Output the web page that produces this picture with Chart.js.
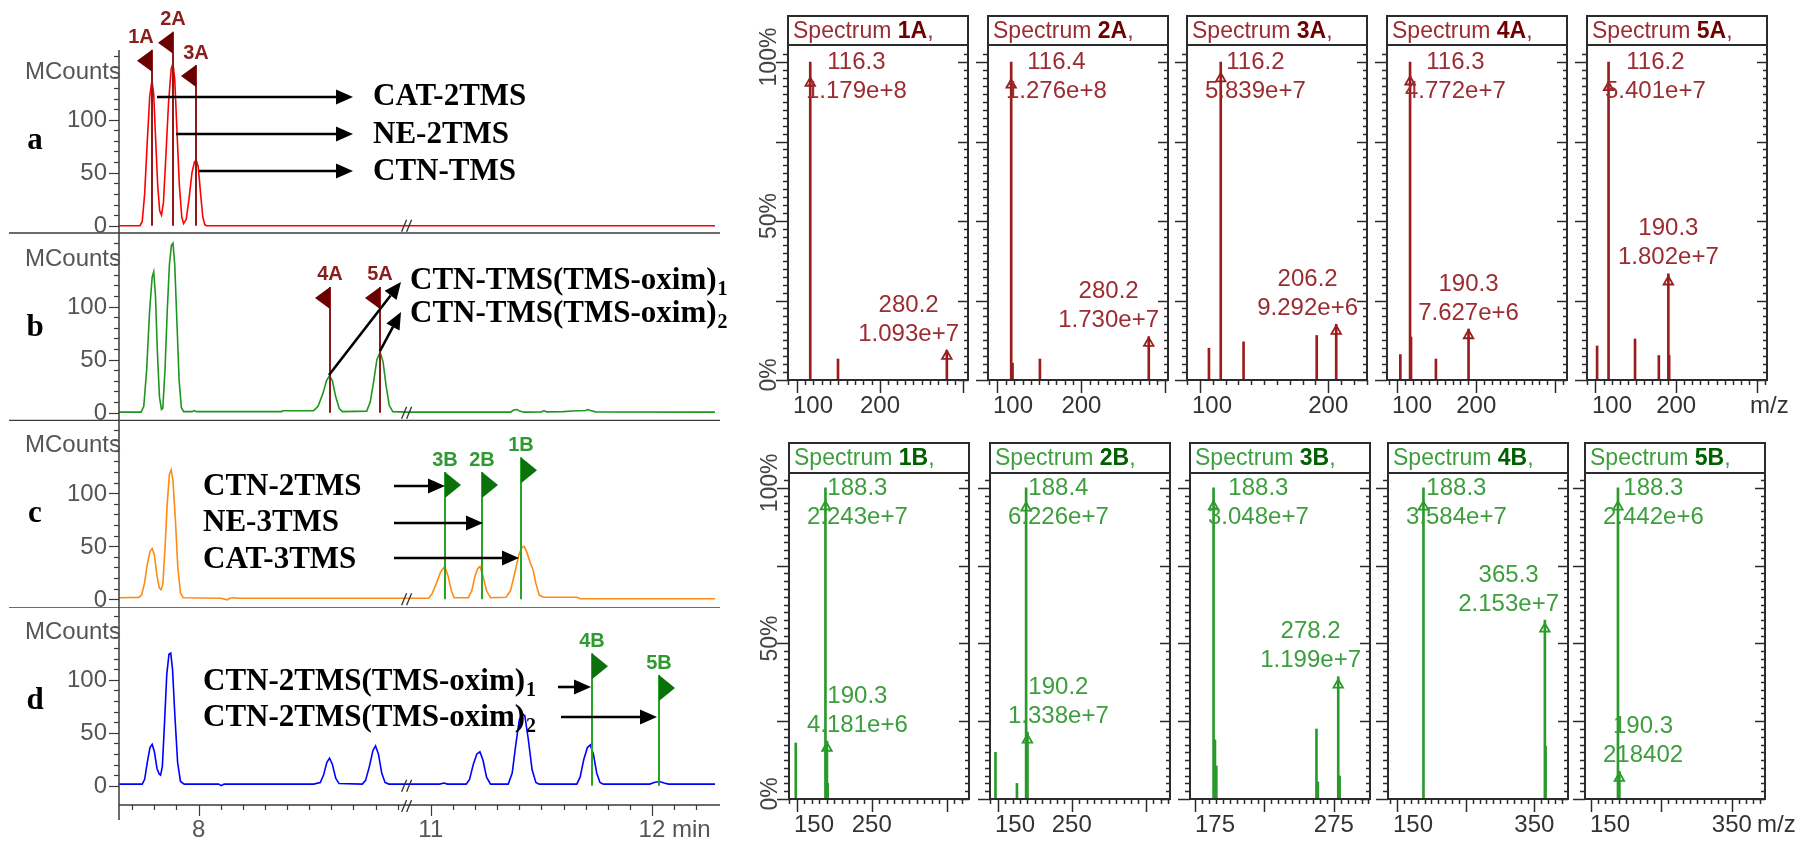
<!DOCTYPE html>
<html><head><meta charset="utf-8"><title>GC-MS chromatograms and spectra</title>
<script src="https://cdn.jsdelivr.net/npm/chart.js@4.4.1/dist/chart.umd.min.js"></script>
<style>
html,body{margin:0;padding:0;background:#ffffff;}
body{width:1809px;height:845px;position:relative;overflow:hidden;}
canvas{position:absolute;}
</style></head><body>
<script>
// ================= Chromatogram data: [time (min), MCounts] =================
const TRACE_A = [[7.64,0],[7.735,0],[7.745,4],[7.756,30],[7.768,80],[7.779,122],[7.789,137],[7.797,124],[7.806,80],[7.815,38],[7.824,14],[7.832,10],[7.841,22],[7.852,66],[7.864,116],[7.876,148],[7.884,153],[7.892,138],[7.902,90],[7.913,38],[7.924,8],[7.932,2],[7.944,6],[7.957,26],[7.970,50],[7.981,60],[7.989,62],[7.998,56],[8.009,30],[8.019,8],[8.028,1],[8.035,0],[8.945,0],[10.895,0],[12.29,0]];
const TRACE_B = [[7.64,0.5],[7.74,0.5],[7.752,6],[7.765,40],[7.778,95],[7.790,128],[7.797,133],[7.805,110],[7.814,55],[7.823,15],[7.832,3],[7.838,4],[7.848,40],[7.858,95],[7.868,140],[7.877,158],[7.884,160],[7.892,140],[7.902,85],[7.912,30],[7.922,5],[7.932,1],[7.97,1],[7.98,2],[7.99,1],[8.375,1],[8.38,1.8],[8.52,2],[8.54,6],[8.562,18],[8.578,30],[8.592,35],[8.605,30],[8.62,15],[8.636,4],[8.65,1],[8.76,1.5],[8.776,10],[8.792,30],[8.806,50],[8.821,57],[8.834,48],[8.848,25],[8.862,7],[8.878,1],[8.945,0.5],[10.895,0.5],[11.36,0.5],[11.375,2.5],[11.389,3],[11.402,1.5],[11.42,0.5],[11.50,0.8],[11.512,1.8],[11.524,0.8],[11.60,1],[11.636,1.6],[11.70,2],[11.71,3],[11.722,2],[11.745,0.8],[12.29,0.5]];
const TRACE_C = [[7.64,1.5],[7.73,1.8],[7.742,4],[7.755,15],[7.768,33],[7.780,45],[7.790,48],[7.800,42],[7.812,22],[7.822,11],[7.830,9],[7.838,14],[7.848,48],[7.858,90],[7.868,118],[7.876,122],[7.884,112],[7.895,75],[7.906,30],[7.918,6],[7.930,1.5],[8.10,1],[8.13,-0.5],[8.14,1],[8.16,1.5],[8.18,1],[8.945,1],[10.895,1],[10.99,1],[11.005,5],[11.025,15],[11.045,26],[11.063,31],[11.078,22],[11.093,8],[11.105,1.5],[11.17,1.5],[11.185,8],[11.200,22],[11.212,29],[11.222,31],[11.236,22],[11.252,8],[11.27,1.5],[11.34,2],[11.36,8],[11.38,25],[11.398,42],[11.412,49],[11.422,50],[11.435,44],[11.450,34],[11.462,28],[11.475,15],[11.49,4],[11.51,2],[11.66,2],[11.675,0.5],[12.29,0.5]];
const TRACE_D = [[7.64,1.5],[7.745,1.5],[7.756,6],[7.768,22],[7.780,36],[7.790,39],[7.800,32],[7.812,16],[7.822,11],[7.828,10],[7.836,18],[7.846,60],[7.856,105],[7.866,124],[7.874,125],[7.882,110],[7.893,65],[7.905,22],[7.918,4],[7.935,1.5],[8.09,1.5],[8.103,0],[8.115,1.5],[8.52,1.5],[8.55,3],[8.565,10],[8.58,22],[8.592,26],[8.605,20],[8.62,7],[8.635,2],[8.74,1.5],[8.755,5],[8.772,18],[8.788,33],[8.800,37.5],[8.813,30],[8.828,12],[8.843,3],[8.86,1.5],[8.945,1.5],[10.895,1.5],[11.04,1.5],[11.06,2.5],[11.075,1.5],[11.16,1.5],[11.175,6],[11.192,20],[11.208,30],[11.222,32],[11.236,24],[11.252,8],[11.27,1.5],[11.35,1.5],[11.368,12],[11.385,40],[11.400,62],[11.412,68],[11.425,66],[11.440,45],[11.458,15],[11.475,3],[11.49,1.5],[11.66,1.5],[11.675,8],[11.692,25],[11.708,36],[11.721,38.5],[11.735,30],[11.750,12],[11.765,3],[11.78,1.5],[11.99,1.5],[12.01,3],[12.034,4],[12.055,2.5],[12.075,1.5],[12.29,1.5]];
const TIME_TICK_LABELS = [8, 11, 12];
const COUNT_TICK_LABELS = [0, 50, 100];
// flags: [label, time, flag-top level (MCounts)]
const FLAGS_A = [['1A',7.789,166],['2A',7.884,183],['3A',7.989,151.5]];
const FLAGS_B = [['4A',8.592,118.6],['5A',8.821,118.6]];
const FLAGS_C = [['3B',11.063,120],['2B',11.230,120],['1B',11.408,134]];
const FLAGS_D = [['4B',11.731,125],['5B',12.034,104.4]];
const PANEL_LETTERS = ['a','b','c','d'];

// ================= Mass spectra data =================
const SPEC_NAMES = ['1A','2A','3A','4A','5A','1B','2B','3B','4B','5B'];
const SPEC_MZ = [
  [116.3,149.6,280.2],
  [116.4,118.0,150.6,280.2],
  [107.0,116.2,134.0,191.0,206.2],
  [104.0,116.3,117.5,149.0,190.3],
  [102.0,116.2,149.0,178.5,190.3,191.3],
  [148.7,188.3,189.3,190.3,191.3],
  [147.0,176.0,188.4,189.4,190.2],
  [188.3,189.3,190.3,262.5,263.5,278.2,279.2],
  [188.3,365.3,366.3],
  [188.3,190.3]
];
const SPEC_AB = [
  [100,6.6,9.3],
  [100,5.3,6.6,13.6],
  [10.0,100,12.0,14.0,17.5],
  [8.0,100,13.5,6.6,16.0],
  [10.7,100,12.9,7.7,33.4,7.7],
  [18.0,100,18.5,18.6,5.0],
  [15.0,5.0,100,21.0,21.5],
  [100,19.0,10.6,22.5,5.5,39.3,7.4],
  [100,57.5,17.0],
  [100,8.9]
];
const LABEL_MZ = [[116.3,280.2],[116.4,280.2],[116.2,206.2],[116.3,190.3],[116.2,190.3],[188.3,190.3],[188.4,190.2],[188.3,278.2],[188.3,365.3],[188.3,190.3]];
const LABEL_INT = [['1.179e+8','1.093e+7'],['1.276e+8','1.730e+7'],['5.839e+7','9.292e+6'],['4.772e+7','7.627e+6'],['5.401e+7','1.802e+7'],['2.243e+7','4.181e+6'],['6.226e+7','1.338e+7'],['3.048e+7','1.199e+7'],['3.584e+7','2.153e+7'],['2.442e+6','218402']];
const MARK_AB = [[93.4,7.5],[92.8,11.6],[94.8,15.4],[93.8,14.0],[92.0,30.9],[94.0,16.4],[93.6,19.0],[94.0,36.7],[93.9,54.7],[93.9,6.7]];
const SPEC_XMIN = [89.6,88.8,89.9,87.1,89.5,139.7,139.6,171.3,136.6,141.5];
const SPEC_XMAX = [305.6,303.1,230.2,314.9,312.5,379.7,382.8,301.1,399.0,397.0];
const MZ_TICK_LABELS = [[100,200],[100,200],[100,200],[100,200],[100,200],[150,250],[150,250],[175,275],[150,350],[150,350]];
const MZ_MAJOR_TICKS = [[100,200,300],[100,200,300],[100,200],[100,200,300],[100,200,300],[150,250,350],[150,250,350],[175,225,275],[150,250,350],[150,250,350]];
const MZ_MINOR_STEP = [10,10,10,10,10,10,10,5,10,10];
const PCT_TICK_LABELS = [0, 50, 100];

// ================= helpers =================
const SANS = '"Liberation Sans", Arial, sans-serif';
const SERIF = '"Liberation Serif", "Times New Roman", serif';
const BREAK_U = 8.945, SHIFT = 1.95;
const toU = t => (t <= BREAK_U ? t : t - SHIFT);
const U_MIN = 7.64, U_MAX = 10.335;
const PX_PER_COUNT = 1.06;

function mk(left, top, w, h) {
  const c = document.createElement('canvas');
  c.width = w; c.height = h;
  c.style.left = left + 'px'; c.style.top = top + 'px';
  c.style.width = w + 'px'; c.style.height = h + 'px';
  document.body.appendChild(c);
  return c;
}
function seg(ctx, x1, y1, x2, y2) { ctx.beginPath(); ctx.moveTo(x1, y1); ctx.lineTo(x2, y2); ctx.stroke(); }
function arrow(ctx, x1, y1, x2, y2) {
  const a = Math.atan2(y2 - y1, x2 - x1), hl = 17, hw = 7.5;
  const bx = x2 - hl * Math.cos(a), by = y2 - hl * Math.sin(a);
  ctx.strokeStyle = '#000'; ctx.lineWidth = 2.6; seg(ctx, x1, y1, bx, by);
  ctx.fillStyle = '#000'; ctx.beginPath(); ctx.moveTo(x2, y2);
  ctx.lineTo(bx + hw * Math.sin(a), by - hw * Math.cos(a));
  ctx.lineTo(bx - hw * Math.sin(a), by + hw * Math.cos(a));
  ctx.closePath(); ctx.fill();
}
function boldLabel(ctx, text, sub, x, y) {
  ctx.font = 'bold 31px ' + SERIF; ctx.textAlign = 'left'; ctx.textBaseline = 'middle'; ctx.fillStyle = '#000';
  ctx.fillText(text, x, y);
  if (sub) { const w = ctx.measureText(text).width; ctx.font = 'bold 20px ' + SERIF; ctx.fillText(sub, x + w + 1, y + 9); }
}
function flag(ctx, red, label, px, py0, ptop, dx) {
  ctx.strokeStyle = red ? '#8e1b1b' : '#26a526'; ctx.lineWidth = 2;
  seg(ctx, px, py0, px, ptop);
  ctx.fillStyle = red ? '#6a0000' : '#0b720b';
  ctx.beginPath();
  if (red) { ctx.moveTo(px, ptop); ctx.lineTo(px, ptop + 22); ctx.lineTo(px - 15, ptop + 11); }
  else { ctx.moveTo(px, ptop); ctx.lineTo(px, ptop + 26); ctx.lineTo(px + 16, ptop + 13); }
  ctx.closePath(); ctx.fill();
  ctx.font = 'bold 20px ' + SANS; ctx.fillStyle = red ? '#8b1c1c' : '#2f9a2f';
  ctx.textAlign = 'center'; ctx.textBaseline = 'middle';
  ctx.fillText(label, px + (dx || 0), ptop - 12);
}
function breakMark(ctx, x, y) {
  ctx.strokeStyle = '#333'; ctx.lineWidth = 1.3;
  seg(ctx, x - 6, y + 6, x - 1, y - 6);
  seg(ctx, x - 1, y + 6, x + 4, y - 6);
}

// ================= Chromatogram panels =================
const PANELS = [
  {trace: TRACE_A, color: '#ff0000', top: 0, h: 234, zero: 225.7, caTop: 20, caBottom: 233, axisTop: 50, axisBottom: 234, sep: 233, flags: FLAGS_A, red: true,
   texts: [['CAT-2TMS', null, 373, 97], ['NE-2TMS', null, 373, 135], ['CTN-TMS', null, 373, 172]],
   arrows: [[157, 97, 353, 97], [176, 134, 353, 134], [199, 171, 353, 171]], flagDx: {'1A': -11}},
  {trace: TRACE_B, color: '#1e961e', top: 234, h: 187, zero: 412.7, caTop: 234, caBottom: 420.5, axisTop: 234, axisBottom: 421, sep: 420.5, flags: FLAGS_B, red: true,
   texts: [['CTN-TMS(TMS-oxim)', '1', 410, 281], ['CTN-TMS(TMS-oxim)', '2', 410, 314]],
   arrows: [[329, 375, 401, 282], [380, 351, 401, 312]], flagDx: {}},
  {trace: TRACE_C, color: '#ff8a14', top: 421, h: 187, zero: 599.3, caTop: 421, caBottom: 608, axisTop: 421, axisBottom: 608, sep: 608, flags: FLAGS_C, red: false,
   texts: [['CTN-2TMS', null, 203, 487], ['NE-3TMS', null, 203, 523], ['CAT-3TMS', null, 203, 560]],
   arrows: [[394, 486, 445, 486], [394, 523, 483, 523], [394, 558, 519, 558]], flagDx: {}},
  {trace: TRACE_D, color: '#0000ff', top: 608, h: 237, zero: 785.7, caTop: 608, caBottom: 805, axisTop: 608, axisBottom: 820, sep: null, xAxis: 805, flags: FLAGS_D, red: false,
   texts: [['CTN-2TMS(TMS-oxim)', '1', 203, 682], ['CTN-2TMS(TMS-oxim)', '2', 203, 718]],
   arrows: [[558, 687, 591, 687], [561, 717, 657, 717]], flagDx: {}}
];

PANELS.forEach((p, idx) => {
  const W = 760;
  const cv = mk(0, p.top, W, p.h);
  const yMin = -(p.caBottom - p.zero) / PX_PER_COUNT;
  const yMax = (p.zero - p.caTop) / PX_PER_COUNT;
  const oy = p.top;
  const plug = {
    id: 'chrom' + idx,
    afterDraw(chart) {
      const {ctx, scales: {x, y}} = chart;
      const X = t => x.getPixelForValue(toU(t));
      const Y = v => y.getPixelForValue(v);
      ctx.save();
      ctx.strokeStyle = '#3a3a3a'; ctx.lineWidth = 1.5;
      if (p.sep !== null) seg(ctx, 9, p.sep - oy, 720, p.sep - oy);
      seg(ctx, 119, p.axisTop - oy, 119, p.axisBottom - oy);
      ctx.lineWidth = 1.2;
      for (let i = 0; i <= 16; i++) {
        const v = i * 10, py = Math.round(Y(v)) + 0.5;
        if (py < p.axisTop - oy + 2) continue;
        const major = COUNT_TICK_LABELS.includes(v);
        seg(ctx, 119 - (major ? 10 : 5), py, 119, py);
      }
      ctx.font = '24px ' + SANS; ctx.fillStyle = '#555'; ctx.textAlign = 'right'; ctx.textBaseline = 'middle';
      COUNT_TICK_LABELS.forEach(v => ctx.fillText(String(v), 107, Y(v) + 1));
      ctx.fillText('MCounts', 121, Y(145));
      ctx.font = 'bold 31px ' + SERIF; ctx.fillStyle = '#000'; ctx.textAlign = 'center';
      ctx.fillText(PANEL_LETTERS[idx], 35, Y(0) - 85);
      const bx = x.getPixelForValue(BREAK_U);
      breakMark(ctx, bx, Y(0));
      if (p.xAxis) {
        const ay = p.xAxis - oy;
        ctx.strokeStyle = '#3a3a3a'; ctx.lineWidth = 1.5;
        seg(ctx, 119, ay, 720, ay);
        ctx.lineWidth = 1.2;
        const ticks = [];
        for (let i = 77; i <= 89; i++) ticks.push(i / 10);
        for (let i = 110; i <= 122; i++) ticks.push(i / 10);
        ticks.forEach(t => {
          const px = Math.round(X(t)) + 0.5;
          const major = TIME_TICK_LABELS.includes(t);
          seg(ctx, px, ay, px, ay + (major ? 11 : 5));
        });
        breakMark(ctx, bx, ay + 1);
        ctx.font = '24px ' + SANS; ctx.fillStyle = '#555'; ctx.textBaseline = 'middle';
        TIME_TICK_LABELS.forEach(t => {
          if (t === 12) {
            ctx.textAlign = 'center'; ctx.fillText('12', X(t), 830 - oy);
            const w = ctx.measureText('12').width;
            ctx.textAlign = 'left'; ctx.fillText(' min', X(t) + w / 2, 830 - oy);
          } else { ctx.textAlign = 'center'; ctx.fillText(String(t), X(t), 830 - oy); }
        });
      }
      p.flags.forEach(([lab, t, top]) => flag(ctx, p.red, lab, Math.round(X(t)), Y(0), Y(top), p.flagDx[lab]));
      p.texts.forEach(([txt, sub, tx, ty]) => boldLabel(ctx, txt, sub, tx, ty - oy));
      p.arrows.forEach(([x1, y1, x2, y2]) => arrow(ctx, x1, y1 - oy, x2, y2 - oy));
      ctx.restore();
    }
  };
  new Chart(cv, {
    type: 'line',
    data: {datasets: [{data: p.trace.map(([t, v]) => ({x: toU(t), y: v})), borderColor: p.color, borderWidth: 1.6, pointRadius: 0, tension: 0, fill: false}]},
    options: {
      responsive: false, animation: false, devicePixelRatio: 1, events: [],
      layout: {padding: {left: 119, right: W - 715, top: p.caTop - oy, bottom: p.top + p.h - p.caBottom}},
      scales: {x: {type: 'linear', min: U_MIN, max: U_MAX, display: false, offset: false},
               y: {type: 'linear', min: yMin, max: yMax, display: false}},
      plugins: {legend: {display: false}, tooltip: {enabled: false}}
    },
    plugins: [plug]
  });
});

// ================= Spectra =================
const ROWS = [
  {top: 0, h: 420, hTop: 16, boxTop: 45, boxBottom: 380, yMax: 105.35, lefts: [788, 988, 1187, 1387, 1587], mzOff: 17,
   line: '#9a1d1d', text: '#9b2c31', dark: '#6e0000'},
  {top: 420, h: 425, hTop: 23, boxTop: 53, boxBottom: 379, yMax: 104.8, lefts: [789, 990, 1190, 1388, 1585], mzOff: 8,
   line: '#2a9a2a', text: '#3c9e3c', dark: '#006000'}
];
const BOX_W = 180, CV_OFF = 40, CV_W = 262;

SPEC_NAMES.forEach((name, k) => {
  const row = k < 5 ? 0 : 1, col = k % 5, R0 = ROWS[row];
  const boxLeft = R0.lefts[col];
  const cv = mk(boxLeft - CV_OFF, R0.top, CV_W, R0.h);
  const plug = {
    id: 'spec' + k,
    afterDraw(chart) {
      const {ctx, chartArea: ca, scales: {x, y}} = chart;
      const L = ca.left, R = ca.right, T = ca.top, B = ca.bottom;
      ctx.save();
      ctx.strokeStyle = '#2b2b2b'; ctx.lineWidth = 2;
      ctx.strokeRect(L, R0.hTop, R - L, T - R0.hTop);
      ctx.strokeRect(L, T, R - L, B - T);
      ctx.textBaseline = 'middle'; ctx.textAlign = 'left';
      let tx = L + 5; const ty = (R0.hTop + T) / 2 + 1;
      ctx.font = '23px ' + SANS; ctx.fillStyle = R0.text; ctx.fillText('Spectrum ', tx, ty);
      tx += ctx.measureText('Spectrum ').width;
      ctx.font = 'bold 23px ' + SANS; ctx.fillStyle = R0.dark; ctx.fillText(name, tx, ty);
      tx += ctx.measureText(name).width;
      ctx.font = '23px ' + SANS; ctx.fillStyle = R0.text; ctx.fillText(',', tx, ty);
      ctx.strokeStyle = '#2b2b2b'; ctx.lineWidth = 1.5;
      for (let i = 0; i <= 41; i++) {
        const v = i * 2.5, py = Math.round(y.getPixelForValue(v)) + 0.5;
        const major = i % 10 === 0;
        seg(ctx, L - (major ? 12 : 5), py, L, py);
        seg(ctx, R - (major ? 10 : 4), py, R, py);
      }
      const xmin = SPEC_XMIN[k], xmax = SPEC_XMAX[k], st = MZ_MINOR_STEP[k];
      for (let i = Math.ceil(xmin / st); i * st <= xmax; i++) {
        const v = i * st, px = Math.round(x.getPixelForValue(v)) + 0.5;
        const major = MZ_MAJOR_TICKS[k].includes(v);
        seg(ctx, px, B, px, B + (major ? 13 : 5));
      }
      ctx.font = '24px ' + SANS; ctx.fillStyle = '#333'; ctx.textAlign = 'center'; ctx.textBaseline = 'middle';
      MZ_TICK_LABELS[k].forEach(v => {
        const w = ctx.measureText(String(v)).width;
        const c = Math.max(x.getPixelForValue(v), L + 5 + w / 2);
        ctx.fillText(String(v), c, B + 26);
      });
      if (col === 4) { ctx.textAlign = 'left'; ctx.fillText('m/z', R - R0.mzOff, B + 26); }
      if (col === 0) {
        ctx.font = '23px ' + SANS; ctx.fillStyle = '#444';
        PCT_TICK_LABELS.forEach(v => {
          ctx.save(); ctx.translate(L - 18, y.getPixelForValue(v) - 5); ctx.rotate(-Math.PI / 2);
          ctx.textAlign = 'center'; ctx.textBaseline = 'middle'; ctx.fillText(v + '%', 0, 0); ctx.restore();
        });
      }
      ctx.font = '24px ' + SANS; ctx.fillStyle = R0.text; ctx.textAlign = 'center'; ctx.textBaseline = 'middle';
      LABEL_MZ[k].forEach((m, i) => {
        const j = SPEC_MZ[k].indexOf(m);
        const ab = SPEC_AB[k][j];
        const l1 = m.toFixed(1), l2 = LABEL_INT[k][i];
        const w = Math.max(ctx.measureText(l1).width, ctx.measureText(l2).width);
        const px = x.getPixelForValue(m);
        const c = Math.min(Math.max(px, L + 18 + w / 2), R - 9 - w / 2);
        let y1, y2;
        if (ab >= 100) { y1 = y.getPixelForValue(100); y2 = y1 + 29; }
        else { y2 = y.getPixelForValue(ab) - 16; y1 = y2 - 29; }
        ctx.fillText(l1, c, y1); ctx.fillText(l2, c, y2);
      });
      ctx.restore();
    }
  };
  new Chart(cv, {
    type: 'bar',
    data: {datasets: [
      {type: 'bar', data: SPEC_MZ[k].map((m, i) => ({x: m, y: SPEC_AB[k][i]})), backgroundColor: R0.line, borderWidth: 0, barThickness: 2, grouped: false, order: 2},
      {type: 'scatter', data: LABEL_MZ[k].map((m, i) => ({x: m, y: MARK_AB[k][i]})), pointStyle: 'triangle', pointRadius: 5.5,
       borderColor: R0.line, backgroundColor: 'rgba(255,255,255,0)', borderWidth: 1.8, order: 1}
    ]},
    options: {
      responsive: false, animation: false, devicePixelRatio: 1, events: [],
      layout: {padding: {left: CV_OFF, right: CV_W - CV_OFF - BOX_W, top: R0.boxTop, bottom: R0.h - R0.boxBottom}},
      scales: {x: {type: 'linear', min: SPEC_XMIN[k], max: SPEC_XMAX[k], display: false, offset: false, grid: {offset: false}},
               y: {type: 'linear', min: 0, max: R0.yMax, display: false}},
      plugins: {legend: {display: false}, tooltip: {enabled: false}}
    },
    plugins: [plug]
  });
});
</script>
</body></html>
